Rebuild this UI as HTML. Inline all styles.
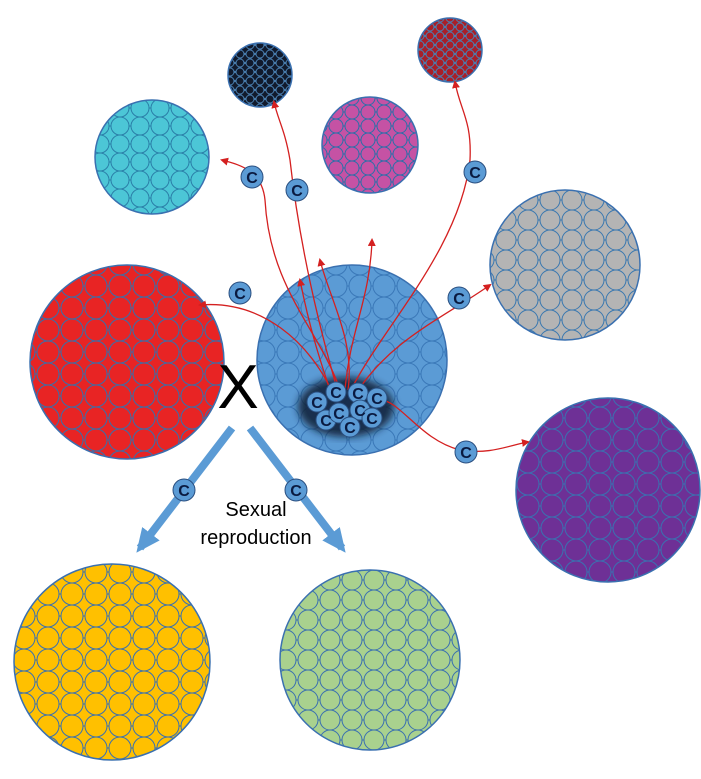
<!DOCTYPE html>
<html><head><meta charset="utf-8"><style>body{margin:0;background:#fff}svg{display:block}</style></head>
<body>
<svg width="701" height="779" viewBox="0 0 701 779" xmlns="http://www.w3.org/2000/svg" font-family="Liberation Sans, sans-serif">
<defs>
<pattern id="pc" width="20" height="18" patternUnits="userSpaceOnUse"><rect width="20" height="18" fill="#3fb8c8"/><circle cx="10" cy="9" r="9" fill="#4cc6d6" stroke="#2a7fa8" stroke-width="1"/><circle cx="0" cy="0" r="9" fill="#4cc6d6" stroke="#2a7fa8"/><circle cx="20" cy="0" r="9" fill="#4cc6d6" stroke="#2a7fa8"/><circle cx="0" cy="18" r="9" fill="#4cc6d6" stroke="#2a7fa8"/><circle cx="20" cy="18" r="9" fill="#4cc6d6" stroke="#2a7fa8"/></pattern>
<pattern id="pk" width="10" height="9" patternUnits="userSpaceOnUse"><rect width="10" height="9" fill="#0d1626"/><circle cx="5" cy="4.5" r="4" fill="#111a2c" stroke="#4a7fb0"/><circle cx="0" cy="0" r="4" fill="#111a2c" stroke="#4a7fb0"/><circle cx="10" cy="0" r="4" fill="#111a2c" stroke="#4a7fb0"/><circle cx="0" cy="9" r="4" fill="#111a2c" stroke="#4a7fb0"/><circle cx="10" cy="9" r="4" fill="#111a2c" stroke="#4a7fb0"/></pattern>
<pattern id="pm" width="16" height="14" patternUnits="userSpaceOnUse"><rect width="16" height="14" fill="#b84a98"/><circle cx="8" cy="7" r="7" fill="#c552a4" stroke="#2a6fa8"/><circle cx="0" cy="0" r="7" fill="#c552a4" stroke="#2a6fa8"/><circle cx="16" cy="0" r="7" fill="#c552a4" stroke="#2a6fa8"/><circle cx="0" cy="14" r="7" fill="#c552a4" stroke="#2a6fa8"/><circle cx="16" cy="14" r="7" fill="#c552a4" stroke="#2a6fa8"/></pattern>
<pattern id="pr" width="10" height="9" patternUnits="userSpaceOnUse"><rect width="10" height="9" fill="#9a1a22"/><circle cx="5" cy="4.5" r="4" fill="#a81f28" stroke="#4a7fb0"/><circle cx="0" cy="0" r="4" fill="#a81f28" stroke="#4a7fb0"/><circle cx="10" cy="0" r="4" fill="#a81f28" stroke="#4a7fb0"/><circle cx="0" cy="9" r="4" fill="#a81f28" stroke="#4a7fb0"/><circle cx="10" cy="9" r="4" fill="#a81f28" stroke="#4a7fb0"/></pattern>
<pattern id="pg" width="22" height="20" patternUnits="userSpaceOnUse"><rect width="22" height="20" fill="#a8a8a8"/><circle cx="11" cy="10" r="10" fill="#b4b4b4" stroke="#3a78b0"/><circle cx="0" cy="0" r="10" fill="#b4b4b4" stroke="#3a78b0"/><circle cx="22" cy="0" r="10" fill="#b4b4b4" stroke="#3a78b0"/><circle cx="0" cy="20" r="10" fill="#b4b4b4" stroke="#3a78b0"/><circle cx="22" cy="20" r="10" fill="#b4b4b4" stroke="#3a78b0"/></pattern>
<pattern id="pR" width="24" height="22" patternUnits="userSpaceOnUse"><rect width="24" height="22" fill="#d81c1c"/><circle cx="12" cy="11" r="11" fill="#e82424" stroke="#3a6ea8"/><circle cx="0" cy="0" r="11" fill="#e82424" stroke="#3a6ea8"/><circle cx="24" cy="0" r="11" fill="#e82424" stroke="#3a6ea8"/><circle cx="0" cy="22" r="11" fill="#e82424" stroke="#3a6ea8"/><circle cx="24" cy="22" r="11" fill="#e82424" stroke="#3a6ea8"/></pattern>
<pattern id="pb" width="24" height="22" patternUnits="userSpaceOnUse"><rect width="24" height="22" fill="#5090d0"/><circle cx="12" cy="11" r="11" fill="#5b9bd5" stroke="#3a78b8"/><circle cx="0" cy="0" r="11" fill="#5b9bd5" stroke="#3a78b8"/><circle cx="24" cy="0" r="11" fill="#5b9bd5" stroke="#3a78b8"/><circle cx="0" cy="22" r="11" fill="#5b9bd5" stroke="#3a78b8"/><circle cx="24" cy="22" r="11" fill="#5b9bd5" stroke="#3a78b8"/></pattern>
<pattern id="pp" width="24" height="22" patternUnits="userSpaceOnUse"><rect width="24" height="22" fill="#622a88"/><circle cx="12" cy="11" r="11" fill="#6e3096" stroke="#3a70b0"/><circle cx="0" cy="0" r="11" fill="#6e3096" stroke="#3a70b0"/><circle cx="24" cy="0" r="11" fill="#6e3096" stroke="#3a70b0"/><circle cx="0" cy="22" r="11" fill="#6e3096" stroke="#3a70b0"/><circle cx="24" cy="22" r="11" fill="#6e3096" stroke="#3a70b0"/></pattern>
<pattern id="py" width="24" height="22" patternUnits="userSpaceOnUse"><rect width="24" height="22" fill="#f5b800"/><circle cx="12" cy="11" r="11" fill="#ffc000" stroke="#3a70b0"/><circle cx="0" cy="0" r="11" fill="#ffc000" stroke="#3a70b0"/><circle cx="24" cy="0" r="11" fill="#ffc000" stroke="#3a70b0"/><circle cx="0" cy="22" r="11" fill="#ffc000" stroke="#3a70b0"/><circle cx="24" cy="22" r="11" fill="#ffc000" stroke="#3a70b0"/></pattern>
<pattern id="pG" width="22" height="20" patternUnits="userSpaceOnUse"><rect width="22" height="20" fill="#9cc884"/><circle cx="11" cy="10" r="10" fill="#a9d18e" stroke="#3a70b0"/><circle cx="0" cy="0" r="10" fill="#a9d18e" stroke="#3a70b0"/><circle cx="22" cy="0" r="10" fill="#a9d18e" stroke="#3a70b0"/><circle cx="0" cy="20" r="10" fill="#a9d18e" stroke="#3a70b0"/><circle cx="22" cy="20" r="10" fill="#a9d18e" stroke="#3a70b0"/></pattern>
<filter id="bl"><feGaussianBlur stdDeviation="4"/></filter>
<marker id="ar" markerWidth="8" markerHeight="8" refX="6" refY="4" orient="auto" markerUnits="userSpaceOnUse"><path d="M0,0 L8,4 L0,8 z" fill="#d42020"/></marker>
<marker id="ab" markerWidth="24" markerHeight="22" refX="18" refY="11" orient="auto" markerUnits="userSpaceOnUse"><path d="M0,0 L24,11 L0,22 z" fill="#5b9bd5"/></marker>
</defs>
<g stroke="#3a70b0" stroke-width="1.5">
<circle cx="152" cy="157" r="57" fill="url(#pc)"/>
<circle cx="260" cy="75" r="32" fill="url(#pk)"/>
<circle cx="370" cy="145" r="48" fill="url(#pm)"/>
<circle cx="450" cy="50" r="32" fill="url(#pr)"/>
<circle cx="565" cy="265" r="75" fill="url(#pg)"/>
<circle cx="127" cy="362" r="97" fill="url(#pR)"/>
<circle cx="352" cy="360" r="95" fill="url(#pb)"/>
<circle cx="608" cy="490" r="92" fill="url(#pp)"/>
<circle cx="112" cy="662" r="98" fill="url(#py)"/>
<circle cx="370" cy="660" r="90" fill="url(#pG)"/>
</g>
<ellipse cx="346" cy="407" rx="48" ry="30" fill="#0a1a30" filter="url(#bl)" opacity="0.85"/>
<ellipse cx="346" cy="407" rx="40" ry="24" fill="#1a3050" opacity="0.7"/>
<g fill="none" stroke="#d42020" stroke-width="1.3" marker-end="url(#ar)">
<path d="M340,390 C320,330 270,290 265,200 C262,170 240,165 222,160"/>
<path d="M338,392 C320,330 300,250 290,160 C285,130 278,120 274,102"/>
<path d="M345,390 C350,330 370,300 372,240"/>
<path d="M350,392 C380,330 460,250 470,160 C472,120 460,110 455,82"/>
<path d="M355,395 C390,340 440,320 490,285"/>
<path d="M335,398 C310,340 260,300 200,305"/>
<path d="M380,400 C400,400 420,440 460,450 C490,455 510,445 528,442"/>
<path d="M330,390 C320,360 310,330 300,280"/>
<path d="M348,390 C355,340 330,300 320,260"/>
</g>
<g stroke="#5b9bd5" stroke-width="8" marker-end="url(#ab)">
<line x1="232" y1="428" x2="140" y2="548"/>
<line x1="250" y1="428" x2="342" y2="548"/>
</g>
<text x="238" y="408" font-size="62" text-anchor="middle" fill="#000">X</text>
<text x="256" y="516" font-size="20" text-anchor="middle">Sexual</text>
<text x="256" y="544" font-size="20" text-anchor="middle">reproduction</text>
<g font-size="16" font-weight="bold" text-anchor="middle" fill="#0a1a40">
<g stroke="#2a4f80" stroke-width="1" fill="#5b9bd5">
<circle cx="240" cy="293" r="11"/><circle cx="184" cy="490" r="11"/><circle cx="296" cy="490" r="11"/><circle cx="252" cy="177" r="11"/><circle cx="297" cy="190" r="11"/><circle cx="475" cy="172" r="11"/><circle cx="459" cy="298" r="11"/><circle cx="466" cy="452" r="11"/>
<circle cx="326" cy="420" r="10"/><circle cx="317" cy="402" r="10"/><circle cx="336" cy="392" r="10"/><circle cx="358" cy="393" r="10"/><circle cx="377" cy="398" r="10"/><circle cx="339" cy="413" r="10"/><circle cx="360" cy="410" r="10"/><circle cx="350" cy="427" r="10"/><circle cx="372" cy="418" r="10"/>
</g>
<text x="240" y="299">C</text><text x="184" y="496">C</text><text x="296" y="496">C</text><text x="252" y="183">C</text><text x="297" y="196">C</text><text x="475" y="178">C</text><text x="459" y="304">C</text><text x="466" y="458">C</text>
<text x="326" y="426">C</text><text x="317" y="408">C</text><text x="336" y="398">C</text><text x="358" y="399">C</text><text x="377" y="404">C</text><text x="339" y="419">C</text><text x="360" y="416">C</text><text x="350" y="433">C</text><text x="372" y="424">C</text>
</g>
</svg>
</body></html>
